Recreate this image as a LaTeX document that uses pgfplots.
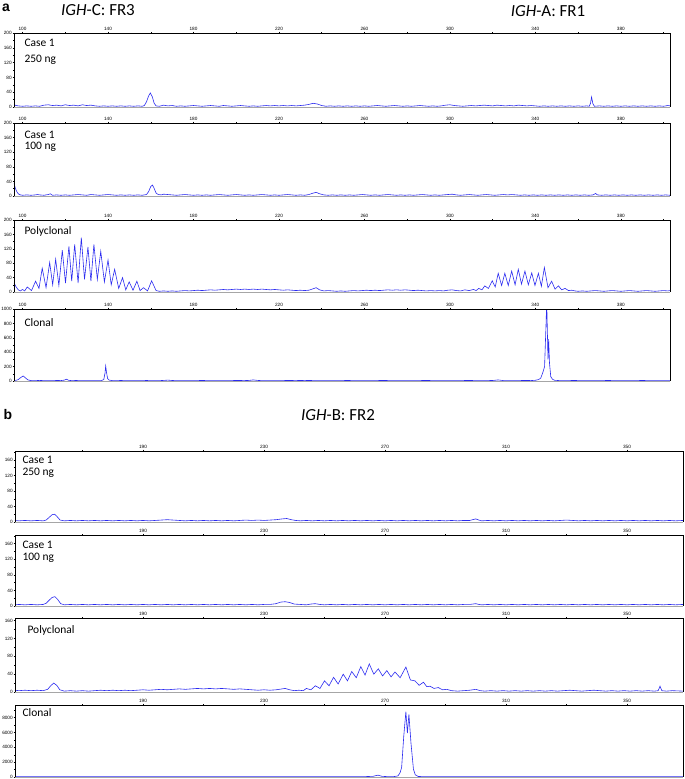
\documentclass[border=0pt]{standalone}
\usepackage{fontspec}
\setmainfont{Carlito}
\newfontfamily\arial{Liberation Sans}
\usepackage{pgfplots}
\pgfplotsset{compat=1.18}
\definecolor{trace}{HTML}{2B2BF0}

\pgfplotsset{
  trace/.style={color=trace, line width=0.6bp},
  gm/.style={
    scale only axis, anchor=south west,
    axis line style={draw=none},
    xtick pos=right, xticklabel pos=right, ytick pos=left,
    tick align=center,
    major tick length=2.6bp, minor tick length=1.6bp,
    every tick/.style={black, line width=0.45bp},
    tick label style={font=\arial\fontsize{4.7}{5.5}\selectfont, inner sep=0.8bp},
    /pgf/number format/assume math mode=true,
    /pgf/number format/1000 sep={},
    extra description/.code={
      \draw[black, line width=0.6bp] (0,0) -- (0,1) -- (1,1) -- (1,0);
      \draw[black!35, line width=0.6bp] (0,0) -- (1,0);
    },
  },
  ga/.style={gm, width=656bp, xmin=96, xmax=403,
    xtick={100,140,...,380}, minor xtick={120,160,...,400}},
  gb/.style={gm, width=668bp, xmin=147.7, xmax=368.5,
    xtick={190,230,...,350}, minor xtick={170,210,...,330}},
  small y/.style={ymin=0, ymax=200, ytick={0,40,...,200}, minor ytick={20,60,...,180}},
  b y/.style={ymin=0, ymax=#1, ytick={0,40,...,160}, minor ytick={20,60,...,180}},
}

\begin{document}
\begin{tikzpicture}
\useasboundingbox (0,0) rectangle (685bp,-779bp);

% ---------- a ----------
\node[font=\arial\bfseries\fontsize{14}{15}\selectfont, anchor=west, inner sep=0bp] at (2bp,-8bp) {a};
\node[font=\fontsize{17}{19}\selectfont] at (98bp,-10bp) {\textit{IGH}-C: FR3};
\node[font=\fontsize{17}{19}\selectfont] at (548bp,-11bp) {\textit{IGH}-A: FR1};

\begin{axis}[ga, small y, height=74bp, at={(14bp,-107bp)}]
\addplot[trace] coordinates {
(96,6)(97,4)(98,3)(100,2)(102,3)(104,2)(106,3)(108,2)(110,5)(112,6)(114,4)(116,5)(118,3)
(120,6)(122,4)(124,5)(126,3)(128,6)(130,4)(132,5)(134,3)(136,2)(138,3)(140,2)(142,3)(144,2)
(146,3)(148,2)(150,3)(152,2)(154,3)(156,2)(157,4)(158,14)(159,30)(159.8,38)(160.7,28)(161.6,10)
(162.5,3)(164,2)(166,5)(168,3)(170,4)(172,2)(174,3)(176,2)(178,3)(180,4)(182,3)(184,2)(186,3)
(188,4)(190,3)(192,2)(194,4)(196,3)(198,2)(200,3)(202,4)(204,3)(206,2)(208,3)(210,2)(212,3)
(214,4)(216,3)(218,4)(220,3)(222,4)(224,3)(226,4)(228,3)(230,4)(232,5)(234,7)(236,10)(238,8)
(240,4)(242,2)(244,3)(246,2)(248,3)(250,2)(252,3)(254,2)(256,3)(258,2)(260,3)(262,2)(264,3)
(266,4)(268,3)(270,2)(272,3)(274,4)(276,3)(278,2)(280,3)(282,2)(284,3)(286,4)(288,3)(290,2)
(292,3)(294,2)(296,3)(298,5)(300,6)(302,4)(304,3)(306,2)(308,3)(310,4)(312,3)(314,4)(316,5)
(318,4)(320,3)(322,5)(324,4)(326,3)(328,4)(330,3)(332,5)(334,4)(336,3)(338,4)(340,3)(342,2)
(344,3)(346,2)(348,3)(350,2)(352,3)(354,2)(356,3)(358,2)(360,3)(362,2)(364,3)(365.2,2)
(365.8,10)(366.3,27)(366.9,9)(367.6,2)(370,3)(372,2)(374,3)(376,2)(378,3)(380,2)(382,3)(384,2)
(386,3)(388,2)(390,3)(392,2)(394,3)(396,2)(398,3)(400,2)(402,4)(403,3)
};
\end{axis}

\begin{axis}[ga, small y, height=73bp, at={(14bp,-196bp)}]
\addplot[trace] coordinates {
(96,35)(96.6,22)(97.3,12)(98,6)(99,3)(100,2)(102,3)(104,2)(106,3)(107,4)(108,3)(110,2)(112,4)
(113,6)(114,2)(116,3)(118,2)(120,3)(122,2)(124,3)(126,4)(128,3)(130,2)(132,4)(134,3)(136,2)
(138,3)(140,4)(142,3)(144,2)(146,3)(148,2)(150,3)(152,2)(154,3)(156,2)(158,4)(159,12)(160,26)
(160.8,30)(161.5,22)(162.5,8)(163.5,4)(165,3)(166,5)(168,4)(170,3)(172,2)(174,3)(176,4)
(178,3)(180,2)(182,3)(184,2)(186,3)(188,2)(190,3)(192,4)(194,3)(196,2)(198,3)(200,4)(202,3)
(204,2)(206,3)(208,2)(210,3)(212,4)(214,3)(216,2)(218,3)(220,2)(222,3)(224,4)(226,3)(228,2)
(230,3)(232,2)(234,4)(236,8)(237.5,10)(239,6)(241,3)(243,2)(245,3)(247,2)(249,3)(251,2)
(253,3)(255,2)(257,3)(259,4)(261,3)(263,2)(265,3)(267,2)(269,3)(271,4)(273,3)(275,2)(277,3)
(279,2)(281,3)(283,2)(285,3)(287,4)(289,3)(291,2)(293,3)(295,2)(297,3)(299,4)(301,5)(303,3)
(305,2)(307,3)(309,4)(311,3)(313,2)(315,3)(317,4)(319,3)(321,2)(323,3)(325,4)(327,3)(329,4)
(331,3)(333,2)(335,3)(337,2)(339,3)(341,2)(343,3)(345,2)(347,3)(349,2)(351,3)(353,2)(355,3)
(357,2)(359,3)(361,2)(363,3)(365,2)(367,3)(368.2,7)(369,3)(371,2)(373,3)(375,2)(377,3)
(379,2)(381,3)(383,2)(385,3)(387,2)(389,3)(391,2)(393,3)(395,2)(397,3)(399,2)(401,3)(403,2)
};
\end{axis}

\begin{axis}[ga, small y, height=72bp, at={(14bp,-292bp)}]
\addplot[trace] coordinates {
(96,25)(97,14)(98,6)(99,3)(100,7)(101,3)(102.2,14)(104.2,4)(106.1,30)(107.7,10)(109.2,66)
(111,12)(112.7,82)(114.1,20)(115.5,91)(117,18)(118.6,116)(120.1,25)(121.7,127)(123,30)
(124.4,132)(126,25)(127.5,151)(129,35)(130.6,125)(132,30)(133.4,132)(135,35)(136.6,113)
(138.3,28)(140,89)(141.5,20)(143.1,63)(145,10)(146.8,40)(148.3,6)(149.9,28)(151.7,5)
(153.5,30)(155,4)(156.6,12)(158.5,3)(160.4,31)(162.5,4)(164,2)(166,3)(168,2)(170,3)(172,2)
(174,3)(176,4)(178,3)(180,4)(182,5)(184,4)(186,5)(188,6)(190,5)(192,6)(194,7)(196,6)(198,7)
(200,8)(202,7)(204,8)(206,7)(208,8)(210,7)(212,8)(214,7)(216,6)(218,7)(220,6)(222,5)(224,6)
(226,5)(228,4)(230,5)(232,4)(234,5)(236,9)(237.4,12)(239,6)(241,3)(243,4)(245,3)(247,2)
(249,3)(251,2)(253,3)(255,4)(257,3)(259,4)(261,5)(263,4)(265,5)(267,4)(269,5)(271,6)(273,5)
(275,6)(277,5)(279,6)(281,5)(283,4)(285,5)(287,4)(289,3)(291,4)(293,3)(295,4)(297,3)(299,5)
(301,6)(303,4)(305,3)(307,6)(309,4)(311,7)(312.3,4)(313.5,10)(315,6)(316.3,17)(318,10)
(319.8,31)(321.2,14)(322.6,52)(324.2,18)(325.7,52)(327.3,18)(328.9,58)(330.5,20)(332,63)
(333.5,22)(335.1,58)(336.7,20)(338.3,53)(339.8,18)(341.4,52)(342.8,16)(344.2,68)(345.9,12)
(347.6,30)(349.2,8)(350.8,17)(352.3,6)(353.9,10)(355.5,4)(357,5)(358.5,3)(360,2)(362,3)
(364,2)(366,3)(368,4)(370,3)(372,2)(374,3)(376,4)(378,3)(380,2)(382,3)(384,4)(386,3)(388,2)
(390,3)(392,4)(394,3)(396,2)(398,3)(400,4)(402,3)(403,4)
};
\end{axis}

\begin{axis}[ga, height=72bp, at={(14bp,-381bp)}, ymin=0, ymax=1000,
  ytick={0,200,...,1000}, minor ytick={100,300,...,900}]
\addplot[trace] coordinates {
(96,8)(97,10)(98,20)(99,45)(100.3,70)(101.5,40)(102.5,15)(104,6)(106,5)(108,8)(110,5)
(112,6)(114,5)(116,7)(118,6)(119.5,12)(120.6,25)(121.5,10)(123,5)(125,7)(127,5)(129,6)
(131,5)(133,6)(135,5)(137,6)(138,20)(138.6,110)(138.9,208)(139.3,120)(139.8,35)(140.5,12)
(142,6)(144,5)(146,7)(148,5)(150,6)(152,5)(154,6)(156,5)(158,7)(160,5)(162,6)(164,5)(166,8)
(168,12)(170,7)(172,5)(174,6)(176,5)(178,6)(180,5)(184,7)(188,5)(192,6)(196,5)(200,7)(204,6)
(206,8)(208,15)(210,8)(212,5)(216,6)(220,5)(224,7)(228,6)(232,8)(236,6)(240,5)(244,6)
(248,5)(252,7)(256,5)(260,6)(264,5)(268,7)(272,6)(276,5)(280,6)(284,5)(288,7)(292,6)
(296,5)(300,6)(304,5)(308,7)(312,6)(316,5)(320,7)(322.6,15)(325,6)(328,5)(332,6)(336,7)
(338,6)(340,10)(341.5,20)(342.5,40)(343.5,120)(344.3,200)(345,800)(345.3,1100)(345.6,700)
(345.9,300)(346.2,580)(346.6,250)(347.2,60)(348,25)(349,10)(351,6)(354,5)(358,7)(362,5)
(366,6)(370,5)(374,7)(378,5)(382,6)(386,5)(390,7)(394,5)(398,6)(403,5)
};
\end{axis}

\node[font=\fontsize{11.5}{13}\selectfont, anchor=west] at (21bp,-43bp) {Case 1};
\node[font=\fontsize{11.5}{13}\selectfont, anchor=west] at (21bp,-60bp) {250 ng};
\node[font=\fontsize{11.5}{13}\selectfont, anchor=west] at (21bp,-135bp) {Case 1};
\node[font=\fontsize{11.5}{13}\selectfont, anchor=west] at (21bp,-147bp) {100 ng};
\node[font=\fontsize{11.5}{13}\selectfont, anchor=west] at (21bp,-231bp) {Polyclonal};
\node[font=\fontsize{11.5}{13}\selectfont, anchor=west] at (21bp,-323bp) {Clonal};

% ---------- b ----------
\node[font=\arial\bfseries\fontsize{14}{15}\selectfont, anchor=west] at (0bp,-415bp) {b};
\node[font=\fontsize{17}{19}\selectfont] at (338bp,-415bp) {\textit{IGH}-B: FR2};

\begin{axis}[gb, b y=183, height=71bp, at={(15bp,-522bp)}]
\addplot[trace] coordinates {
(147.7,4)(149,3)(151,4)(153,3)(155,4)(157,3)(158,5)(159,12)(160,19)(160.8,20)(161.6,14)
(162.6,5)(164,3)(166,4)(168,3)(170,4)(172,3)(174,4)(176,3)(178,4)(180,3)(182,4)(184,3)
(186,4)(188,3)(190,4)(192,3)(194,4)(196,5)(198,6)(200,5)(202,4)(204,3)(206,4)(208,3)(210,4)
(212,3)(214,4)(216,3)(218,4)(220,3)(222,4)(224,5)(226,4)(228,5)(230,4)(232,5)(234,6)(236,8)
(237.5,9)(239,6)(240.5,4)(242,3)(244,4)(246,3)(248,4)(250,3)(252,4)(254,3)(256,4)(258,3)
(260,4)(262,3)(264,4)(266,3)(268,4)(270,3)(272,4)(274,3)(276,4)(278,3)(280,4)(282,3)(284,4)
(286,3)(288,4)(290,3)(292,4)(294,3)(296,4)(298,4)(299,6)(300,8)(301,5)(302,3)(304,4)(306,3)
(308,4)(310,3)(312,4)(314,3)(316,4)(318,3)(320,4)(322,3)(324,4)(326,3)(328,4)(330,5)(332,4)
(334,3)(336,4)(338,3)(340,4)(342,3)(344,4)(346,3)(348,4)(350,3)(352,4)(354,3)(356,4)(358,3)
(360,4)(362,3)(364,4)(366,3)(368.5,4)
};
\end{axis}

\begin{axis}[gb, b y=182, height=71bp, at={(15bp,-606bp)}]
\addplot[trace] coordinates {
(147.7,3)(149,4)(151,3)(153,4)(155,3)(157,4)(158,7)(159,15)(160,22)(160.9,24)(161.8,17)
(162.8,6)(164,3)(166,4)(168,3)(170,4)(172,3)(174,4)(176,3)(178,4)(180,3)(182,4)(184,3)
(186,4)(188,3)(190,4)(192,3)(194,4)(196,3)(198,4)(200,3)(202,4)(204,3)(206,4)(208,3)(210,4)
(212,3)(214,4)(216,3)(218,4)(220,3)(222,4)(224,3)(226,4)(228,3)(230,4)(232,4)(234,6)
(235.5,10)(237,11)(238.5,9)(240,5)(242,4)(244,3)(245.5,5)(246.9,6)(248.5,4)(250,3)(252,4)
(254,3)(256,4)(258,3)(260,4)(262,3)(264,4)(266,3)(268,4)(270,3)(272,4)(274,3)(276,4)(278,3)
(280,4)(282,3)(284,4)(286,3)(288,4)(290,3)(292,4)(294,3)(296,4)(298,4)(299,5)(300,6)(301,4)
(302,3)(304,4)(306,3)(308,4)(310,3)(312,4)(314,3)(316,4)(318,3)(320,4)(322,3)(324,4)(326,3)
(328,4)(330,3)(332,4)(334,3)(336,4)(338,3)(340,4)(342,3)(344,4)(346,3)(348,4)(350,3)(352,4)
(354,3)(356,4)(358,3)(360,4)(362,3)(364,4)(366,3)(368.5,4)
};
\end{axis}

\begin{axis}[gb, b y=166, height=74bp, at={(15bp,-692bp)}]
\addplot[trace] coordinates {
(147.7,4)(149,3)(151,4)(153,3)(155,4)(157,3)(158.5,6)(159.5,14)(160.5,20)(161.5,15)
(162.5,5)(164,2)(166,3)(168,2)(170,3)(172,2)(174,3)(176,4)(178,3)(180,4)(182,3)(184,4)
(186,3)(188,4)(190,5)(192,4)(194,5)(196,6)(198,5)(200,6)(202,7)(204,6)(206,7)(208,8)(210,7)
(212,8)(214,7)(216,8)(218,7)(220,6)(222,7)(224,6)(226,5)(228,4)(230,5)(232,4)(234,5)(236,7)
(237,8)(238.5,5)(240,3)(241.5,4)(243,3)(244,8)(245.5,5)(247,14)(248.5,8)(250,25)(251.5,14)
(253,33)(254.5,18)(256.2,40)(257.6,25)(259,46)(260.5,32)(262,57)(263.4,38)(264.8,63)
(266.3,40)(267.8,52)(269.2,36)(270.6,48)(272,34)(273.3,45)(275,32)(276.9,56)(278.4,27)
(279.9,25)(281.3,15)(282.7,22)(283.8,12)(284.9,13)(286.2,8)(287.6,10)(289,5)(290.4,6)
(292,3)(294,2)(296,3)(298,4)(300,6)(301.5,3)(303,2)(305,3)(307,2)(309,3)(311,2)(313,3)
(315,2)(317,3)(319,2)(321,3)(323,2)(325,3)(327,2)(329,3)(331,4)(333,3)(335,2)(337,3)(339,4)
(341,3)(343,2)(345,3)(347,2)(349,3)(351,2)(353,3)(355,2)(357,3)(359,2)(360.3,3)(360.9,13)
(361.5,3)(363,2)(365,3)(368.5,2)
};
\end{axis}

\begin{axis}[gb, height=72bp, at={(15bp,-777bp)}, ymin=0, ymax=9700,
  ytick={0,2000,...,8000}, minor ytick={1000,3000,...,9000}]
\addplot[trace] coordinates {
(147.7,50)(151,40)(155,60)(159,40)(163,55)(167,40)(171,60)(175,45)(179,55)(183,40)(187,60)
(191,45)(195,55)(199,40)(203,60)(207,45)(211,55)(215,40)(219,60)(223,45)(227,55)(231,40)
(235,60)(239,45)(243,55)(247,40)(251,60)(255,45)(259,55)(263,50)(266,90)(267.7,250)
(269,90)(271,50)(273,60)(274.3,150)(275,600)(275.5,1300)(276.2,5500)(276.9,8800)(277.4,5900)
(277.9,8450)(278.6,4500)(279.4,1060)(280,300)(281,70)(283,50)(287,40)(291,60)(295,45)
(299,55)(303,40)(307,60)(311,45)(315,55)(319,40)(323,60)(327,45)(331,55)(335,40)(339,60)
(343,45)(347,55)(351,40)(355,60)(359,45)(363,55)(368.5,45)
};
\end{axis}

\node[font=\fontsize{11.5}{13}\selectfont, anchor=west] at (19bp,-460bp) {Case 1};
\node[font=\fontsize{11.5}{13}\selectfont, anchor=west] at (19bp,-473bp) {250 ng};
\node[font=\fontsize{11.5}{13}\selectfont, anchor=west] at (19bp,-545bp) {Case 1};
\node[font=\fontsize{11.5}{13}\selectfont, anchor=west] at (19bp,-558bp) {100 ng};
\node[font=\fontsize{11.5}{13}\selectfont, anchor=west] at (24bp,-630bp) {Polyclonal};
\node[font=\fontsize{11.5}{13}\selectfont, anchor=west] at (19bp,-713bp) {Clonal};
\end{tikzpicture}
\end{document}
